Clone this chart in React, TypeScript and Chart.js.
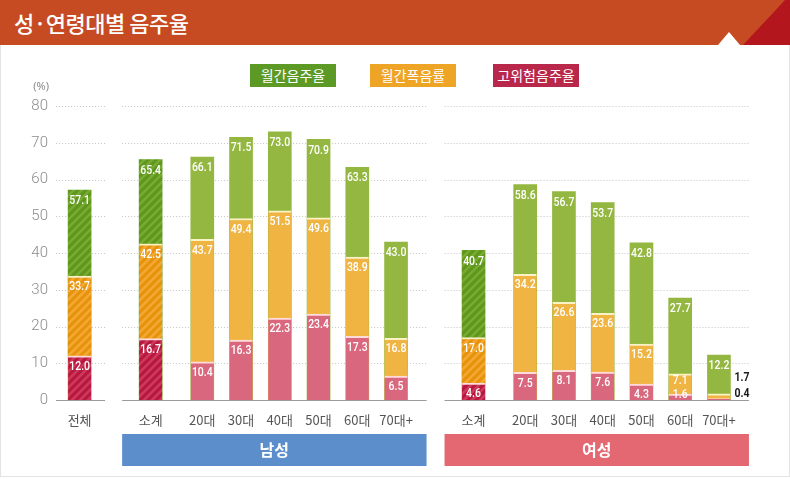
import { useEffect, useRef } from 'react';
import { Chart, registerables } from 'chart.js';

Chart.register(...registerables);

const TITLE = '성·연령대별 음주율';
const SERIES_NAMES = ['월간음주율', '월간폭음률', '고위험음주율'];
const TOTAL_LABEL = '전체';
const GROUP_NAMES = ['남성', '여성'];
const AGE_LABELS = ['소계', '20대', '30대', '40대', '50대', '60대', '70대+'];
const Y_TICKS = [0, 10, 20, 30, 40, 50, 60, 70, 80];

// 월간음주율
const MONTHLY_TOTAL = 57.1;
const MONTHLY_MALE = [65.4, 66.1, 71.5, 73.0, 70.9, 63.3, 43.0];
const MONTHLY_FEMALE = [40.7, 58.6, 56.7, 53.7, 42.8, 27.7, 12.2];
// 월간폭음률
const BINGE_TOTAL = 33.7;
const BINGE_MALE = [42.5, 43.7, 49.4, 51.5, 49.6, 38.9, 16.8];
const BINGE_FEMALE = [17.0, 34.2, 26.6, 23.6, 15.2, 7.1, 1.7];
// 고위험음주율
const RISK_TOTAL = 12.0;
const RISK_MALE = [16.7, 10.4, 16.3, 22.3, 23.4, 17.3, 6.5];
const RISK_FEMALE = [4.6, 7.5, 8.1, 7.6, 4.3, 1.6, 0.4];

// slot layout of the category axis (blank slots give the uneven spacing)
const LEAD_BLANKS = 3;
const AFTER_TOTAL_BLANKS = 10;
const AFTER_SUBTOTAL_BLANKS = 7;
const BETWEEN_AGE_BLANKS = 5;
const BETWEEN_GROUP_BLANKS = 11;
const TRAIL_BLANKS = 4;

const COLORS = {
  green: '#93b740',
  orange: '#f0b443',
  pink: '#d9687f',
  greenDark: '#5f961c',
  greenStripe: '#78ab33',
  orangeDark: '#e8920b',
  orangeStripe: '#f2a934',
  redDark: '#b8183f',
  redStripe: '#cd3a5c',
  legendGreen: '#5c9a25',
  legendOrange: '#eea526',
  legendRed: '#b9284a',
  male: '#5b8ecb',
  female: '#e46872',
  header: '#c74b22',
  headerCorner: '#b3161d',
};

type Slot = { label: string; group: number; idx: number; hatched: boolean } | null;

function buildSlots(): Slot[] {
  const slots: Slot[] = [];
  const blanks = (n: number) => { for (let i = 0; i < n; i++) slots.push(null); };
  blanks(LEAD_BLANKS);
  slots.push({ label: TOTAL_LABEL, group: -1, idx: 0, hatched: true });
  blanks(AFTER_TOTAL_BLANKS);
  [0, 1].forEach((g) => {
    AGE_LABELS.forEach((lab, i) => {
      if (i === 1) blanks(AFTER_SUBTOTAL_BLANKS);
      else if (i > 1) blanks(BETWEEN_AGE_BLANKS);
      slots.push({ label: lab, group: g, idx: i, hatched: i === 0 });
    });
    if (g === 0) blanks(BETWEEN_GROUP_BLANKS);
  });
  blanks(TRAIL_BLANKS);
  return slots;
}

function pick(slot: Slot, total: number, male: number[], female: number[]) {
  if (!slot) return null;
  if (slot.group === -1) return total;
  return slot.group === 0 ? male[slot.idx] : female[slot.idx];
}

function makeHatch(base: string, stripe: string): CanvasPattern | string {
  const c = document.createElement('canvas');
  c.width = 8;
  c.height = 8;
  const g = c.getContext('2d');
  if (!g) return base;
  g.fillStyle = base;
  g.fillRect(0, 0, 8, 8);
  g.strokeStyle = stripe;
  g.lineWidth = 2.6;
  g.beginPath();
  g.moveTo(-4, 4); g.lineTo(4, -4);
  g.moveTo(0, 8); g.lineTo(8, 0);
  g.moveTo(4, 12); g.lineTo(12, 4);
  g.stroke();
  return g.createPattern(c, 'repeat') || base;
}

const LABEL_FONT = '500 12.5px "Roboto", "Noto Sans", sans-serif';
const OUTSIDE_FONT = 'bold 12.5px "Roboto", "Noto Sans", sans-serif';
const LABEL_SQUEEZE = 0.84;

// value text drawn horizontally narrowed, like a condensed face
function squeezedText(ctx: CanvasRenderingContext2D, text: string, x: number, y: number, align: 'center' | 'left') {
  ctx.save();
  ctx.translate(x, y);
  ctx.scale(LABEL_SQUEEZE, 1);
  ctx.textAlign = align;
  ctx.textBaseline = 'middle';
  ctx.fillText(text, 0, 0);
  ctx.restore();
}

export default function App() {
  const canvasRef = useRef<HTMLCanvasElement | null>(null);

  useEffect(() => {
    const canvas = canvasRef.current;
    if (!canvas) return;
    const slots = buildSlots();
    const labels = slots.map((s) => (s ? s.label : ''));
    const monthly = slots.map((s) => pick(s, MONTHLY_TOTAL, MONTHLY_MALE, MONTHLY_FEMALE));
    const binge = slots.map((s) => pick(s, BINGE_TOTAL, BINGE_MALE, BINGE_FEMALE));
    const risk = slots.map((s) => pick(s, RISK_TOTAL, RISK_MALE, RISK_FEMALE));

    const hatchGreen = makeHatch(COLORS.greenDark, COLORS.greenStripe);
    const hatchOrange = makeHatch(COLORS.orangeDark, COLORS.orangeStripe);
    const hatchRed = makeHatch(COLORS.redDark, COLORS.redStripe);

    const fillFor = (plain: string, hatch: CanvasPattern | string) =>
      slots.map((s) => (s && s.hatched ? hatch : plain));

    // gridline segments and group boxes, measured from the first/last bar of each group
    const segmentPads: [number, number][] = [[23.5, 25.5], [28.5, 30.5], [29, 30]];
    const groupSlotRange = (g: number) => {
      const ids = slots.map((s, i) => (s && s.group === g ? i : -1)).filter((i) => i >= 0);
      return [ids[0], ids[ids.length - 1]];
    };

    const framePlugin = {
      id: 'frame',
      beforeDatasetsDraw(chart: any) {
        const { ctx, scales } = chart;
        const xs = scales.x;
        const ys = scales.y;
        ctx.save();
        [-1, 0, 1].forEach((g, k) => {
          const [a, b] = groupSlotRange(g);
          const x0 = xs.getPixelForValue(a) - segmentPads[k][0];
          const x1 = xs.getPixelForValue(b) + segmentPads[k][1];
          Y_TICKS.forEach((t) => {
            const y = Math.round(ys.getPixelForValue(t)) + 0.5;
            ctx.beginPath();
            if (t === 0) {
              ctx.setLineDash([]);
              ctx.strokeStyle = '#9a9a9a';
            } else {
              ctx.setLineDash([1, 2]);
              ctx.strokeStyle = '#c4c4c4';
            }
            ctx.lineWidth = 1;
            ctx.moveTo(x0, y);
            ctx.lineTo(x1, y);
            ctx.stroke();
          });
        });
        ctx.restore();
      },
      afterDraw(chart: any) {
        const { ctx, scales, chartArea } = chart;
        const xs = scales.x;
        ctx.save();
        // unit label above the y axis
        ctx.font = '11px "Noto Sans", sans-serif';
        ctx.fillStyle = '#8a8a8a';
        ctx.textAlign = 'right';
        ctx.textBaseline = 'middle';
        ctx.fillText('(%)', chartArea.left - 8, 87);
        // group boxes under the axis
        [0, 1].forEach((g) => {
          const [a, b] = groupSlotRange(g);
          const x0 = xs.getPixelForValue(a) - segmentPads[g + 1][0];
          const x1 = xs.getPixelForValue(b) + segmentPads[g + 1][1];
          ctx.fillStyle = g === 0 ? COLORS.male : COLORS.female;
          ctx.fillRect(x0, 434, x1 - x0, 32);
          ctx.fillStyle = '#ffffff';
          ctx.font = 'bold 16px "Noto Sans CJK KR", sans-serif';
          ctx.textAlign = 'center';
          ctx.textBaseline = 'middle';
          ctx.fillText(GROUP_NAMES[g], (x0 + x1) / 2, 450);
        });
        ctx.restore();
      },
      afterDatasetsDraw(chart: any) {
        const { ctx, scales } = chart;
        const base = scales.y.getPixelForValue(0);
        const mG = chart.getDatasetMeta(0).data;
        const mO = chart.getDatasetMeta(1).data;
        const mR = chart.getDatasetMeta(2).data;
        ctx.save();
        const clampY = (top: number) => Math.min(top + 11, base - 5);
        slots.forEach((s, i) => {
          if (!s) return;
          const g = monthly[i] as number;
          const o = binge[i] as number;
          const r = risk[i] as number;
          const eg = mG[i];
          const eo = mO[i];
          const er = mR[i];
          const cx = eg.x;
          const right = eg.x + eg.width / 2;
          ctx.font = LABEL_FONT;
          ctx.fillStyle = '#ffffff';
          if (o - r < 3) {
            // thin segments: values go beside the bar
            squeezedText(ctx, g.toFixed(1), cx, clampY(eg.y), 'center');
            ctx.font = OUTSIDE_FONT;
            ctx.fillStyle = '#1a1a1a';
            squeezedText(ctx, o.toFixed(1), right + 4, base - 22, 'left');
            squeezedText(ctx, r.toFixed(1), right + 4, base - 6, 'left');
            return;
          }
          const ry = clampY(er.y);
          let oy = clampY(eo.y);
          if (oy > ry - 14) oy = ry - 14;
          let gy = clampY(eg.y);
          if (gy > oy - 14) gy = oy - 14;
          squeezedText(ctx, r.toFixed(1), cx, ry, 'center');
          squeezedText(ctx, o.toFixed(1), cx, oy, 'center');
          squeezedText(ctx, g.toFixed(1), cx, gy, 'center');
        });
        ctx.restore();
      },
    };

    const barCommon = {
      grouped: false,
      barThickness: 23,
      borderSkipped: 'start' as const,
    };

    const chart = new Chart(canvas, {
      type: 'bar',
      data: {
        labels,
        datasets: [
          {
            ...barCommon,
            label: SERIES_NAMES[0],
            data: monthly,
            order: 3,
            backgroundColor: fillFor(COLORS.green, hatchGreen) as any,
            borderWidth: 0,
          },
          {
            ...barCommon,
            label: SERIES_NAMES[1],
            data: binge,
            order: 2,
            backgroundColor: fillFor(COLORS.orange, hatchOrange) as any,
            borderColor: 'rgba(255, 246, 205, 0.95)',
            borderWidth: { top: 2, left: 0, right: 0, bottom: 0 },
          },
          {
            ...barCommon,
            label: SERIES_NAMES[2],
            data: risk,
            order: 1,
            backgroundColor: fillFor(COLORS.pink, hatchRed) as any,
            borderColor: 'rgba(255, 222, 228, 0.95)',
            borderWidth: { top: 2, left: 0, right: 0, bottom: 0 },
          },
        ],
      },
      options: {
        responsive: false,
        animation: false,
        layout: { padding: { left: 0, right: 42, top: 106, bottom: 49 } },
        plugins: { legend: { display: false }, tooltip: { enabled: false } },
        scales: {
          x: {
            grid: { display: false, drawTicks: false },
            border: { display: false },
            ticks: {
              autoSkip: false,
              maxRotation: 0,
              minRotation: 0,
              padding: 12,
              color: '#555555',
              font: { family: '"Noto Sans CJK KR", sans-serif', size: 13 },
            },
            afterFit: (s: any) => { s.height = 30; },
          },
          y: {
            min: 0,
            max: 80,
            grid: { display: false, drawTicks: false },
            border: { display: false },
            ticks: {
              stepSize: 10,
              padding: 9,
              color: '#8c8c8c',
              font: { family: '"Roboto", sans-serif', size: 15, weight: 300 as any },
            },
            afterFit: (s: any) => { s.width = 57; },
          },
        },
      },
      plugins: [framePlugin],
    });
    return () => chart.destroy();
  }, []);

  const legend = [
    { name: SERIES_NAMES[0], color: COLORS.legendGreen, left: 250 },
    { name: SERIES_NAMES[1], color: COLORS.legendOrange, left: 370 },
    { name: SERIES_NAMES[2], color: COLORS.legendRed, left: 493 },
  ];

  return (
    <div style={{ position: 'relative', width: 790, height: 479, background: '#ffffff', overflow: 'hidden', fontFamily: '"Noto Sans CJK KR", sans-serif' }}>
      <style>{'body{margin:0;}'}</style>
      <div style={{ position: 'absolute', left: 0, top: 45, width: 790, height: 432, boxSizing: 'border-box', border: '1px solid #e3e3e3', borderTop: 'none' }} />
      <div style={{ position: 'absolute', left: 0, top: 0, width: 790, height: 45, background: COLORS.header }} />
      <div style={{ position: 'absolute', left: 0, top: 0, width: 790, height: 45, background: COLORS.headerCorner, clipPath: 'polygon(743px 45px, 785px 0px, 790px 0px, 790px 45px)' }} />
      <div style={{ position: 'absolute', left: 718, top: 32, width: 22, height: 13, background: '#ffffff', clipPath: 'polygon(50% 0%, 100% 100%, 0% 100%)' }} />
      <div style={{ position: 'absolute', left: 14, top: 0, height: 45, lineHeight: '45px', color: '#ffffff', fontSize: 22, fontWeight: 500, letterSpacing: -0.5 }}>{TITLE}</div>
      {legend.map((l) => (
        <div key={l.name} style={{ position: 'absolute', left: l.left, top: 64, width: 86, height: 23, lineHeight: '23px', background: l.color, color: '#ffffff', fontSize: 14, textAlign: 'center' }}>{l.name}</div>
      ))}
      <canvas ref={canvasRef} width={790} height={479} style={{ position: 'absolute', left: 0, top: 0 }} />
    </div>
  );
}
